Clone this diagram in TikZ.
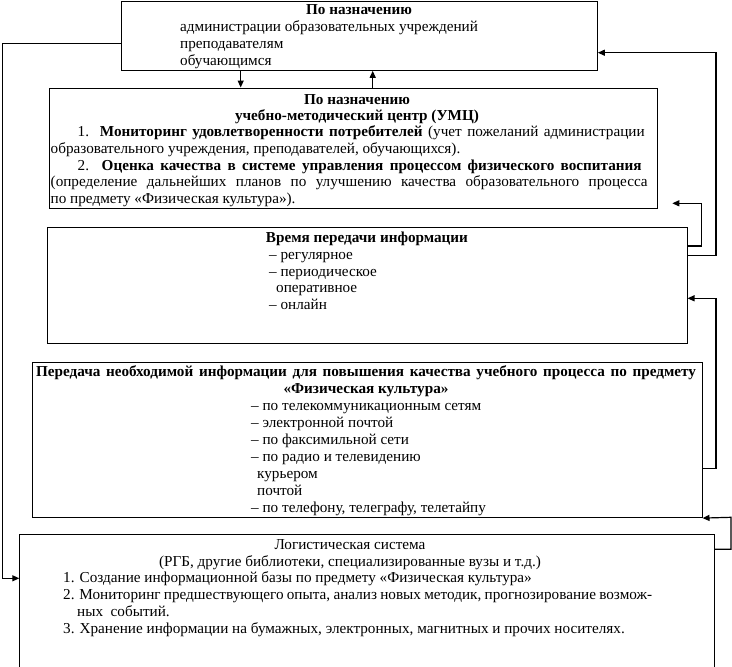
\documentclass[tikz,border=0pt]{standalone}
\usepackage{fontspec}
\setmainfont{Liberation Serif}
\usetikzlibrary{arrows.meta}
\newcommand{\jline}[2]{\makebox[#1][s]{#2}}
\begin{document}
\begin{tikzpicture}[x=1pt,y=-1pt,
  box/.style={draw, line width=0.8pt, inner sep=0pt, anchor=north west},
  conn/.style={line width=1.2pt},
  arr/.style={conn, -{Triangle[length=7pt,width=6pt]}},
  txt/.style={inner sep=0pt, anchor=base west, align=left},
  ttl/.style={inner sep=0pt, anchor=base, align=center, font=\bfseries},
  ttlr/.style={inner sep=0pt, anchor=base, align=center},
  fs/.style={font=\fontsize{15.2}{#1}\selectfont},
  fsb/.style={font=\fontsize{15.2}{#1}\selectfont\bfseries}
]
\useasboundingbox (0,0) rectangle (732,667);

% boxes
\node[box, minimum width=476.3pt, minimum height=69pt] (b1) at (120.7,1) {};
\node[box, minimum width=607.4pt, minimum height=120.8pt] (b2) at (49.3,87.5) {};
\node[box, minimum width=640.2pt, minimum height=116pt] (b3) at (46.5,227) {};
\node[box, minimum width=669.7pt, minimum height=155.3pt] (b4) at (32,362) {};
\node[box, minimum width=694.2pt, minimum height=150pt] (b5) at (19.3,534.3) {};

% box 1 text (anchor = baseline of last line)
\node[ttl, fsb=17] (h1) at (359,14.5) {По назначению};
\node[txt, fs=17] (t1) at (180,65.5) {администрации образовательных учреждений\\преподавателям\\обучающимся};

% box 2 text
\node[ttl, fsb=16] (h2) at (357,120.5) {По назначению\\учебно-методический центр (УМЦ)};
\node[txt, fs=16.75] (t2) at (50.5,203.5) {\hspace*{27pt}\jline{567pt}{1.\ \ \textbf{Мониторинг удовлетворенности потребителей} (учет пожеланий администрации}\\
образовательного учреждения, преподавателей, обучающихся).\\
\hspace*{27pt}\jline{564pt}{2.\ \ \textbf{Оценка качества в системе управления процессом физического воспитания}}\\
\jline{597pt}{(определение дальнейших планов по улучшению качества образовательного процесса}\\
по предмету «Физическая культура»).};

% box 3 text
\node[ttl, fsb=16.7] (h3) at (367,242.5) {Время передачи информации};
\node[txt, fs=16.7] (t3) at (269,309.5) {– регулярное\\– периодическое\\\hspace*{7pt}оперативное\\– онлайн};

% box 4 text
\node[ttl, fsb=17] (h4) at (366,393.5) {\jline{660pt}{Передача необходимой информации для повышения качества учебного процесса по предмету}\\«Физическая культура»};
\node[txt, fs=17] (t4) at (251,512) {– по телекоммуникационным сетям\\– электронной почтой\\– по факсимильной сети\\– по радио и телевидению\\\hspace*{6pt}курьером\\\hspace*{6pt}почтой\\– по телефону, телеграфу, телетайпу};

% box 5 text
\node[ttlr, fs=16.5] (h5) at (350,566) {Логистическая система\\(РГБ, другие библиотеки, специализированные вузы и т.д.)};
\node[txt, fs=17] (t5) at (63,633.5) {1. Создание информационной базы по предмету «Физическая культура»\\
\jline{589pt}{2. Мониторинг предшествующего опыта, анализ новых методик, прогнозирование возмож-}\\
\hspace*{14pt}ных\ \ событий.\\
3. Хранение информации на бумажных, электронных, магнитных и прочих носителях.};

% connectors
\coordinate (e2) at (672.3,203.3);
\draw[arr] (b1.west |- 0,43.3) -| (2.7,578.3) -- (b5.west |- 0,578.3);
\draw[arr] (b1.south -| 240.7,0) -- (b2.north -| 240.7,0);
\draw[arr] (b2.north -| 372.7,0) -- (b1.south -| 372.7,0);
\draw[arr] (b3.east |- 0,255.3) -| (716,52.7) -- (b1.east |- 0,52.7);
\draw[arr] (b3.east |- 0,246) -| (701.7,203.3) -- (e2);
\draw[arr] (b4.east |- 0,468.3) -| (716,298.3) -- (b3.east |- 0,298.3);
\draw[arr] (b5.east |- 0,549.3) -| (731,517.3) -- (b4.south east);
\end{tikzpicture}
\end{document}
